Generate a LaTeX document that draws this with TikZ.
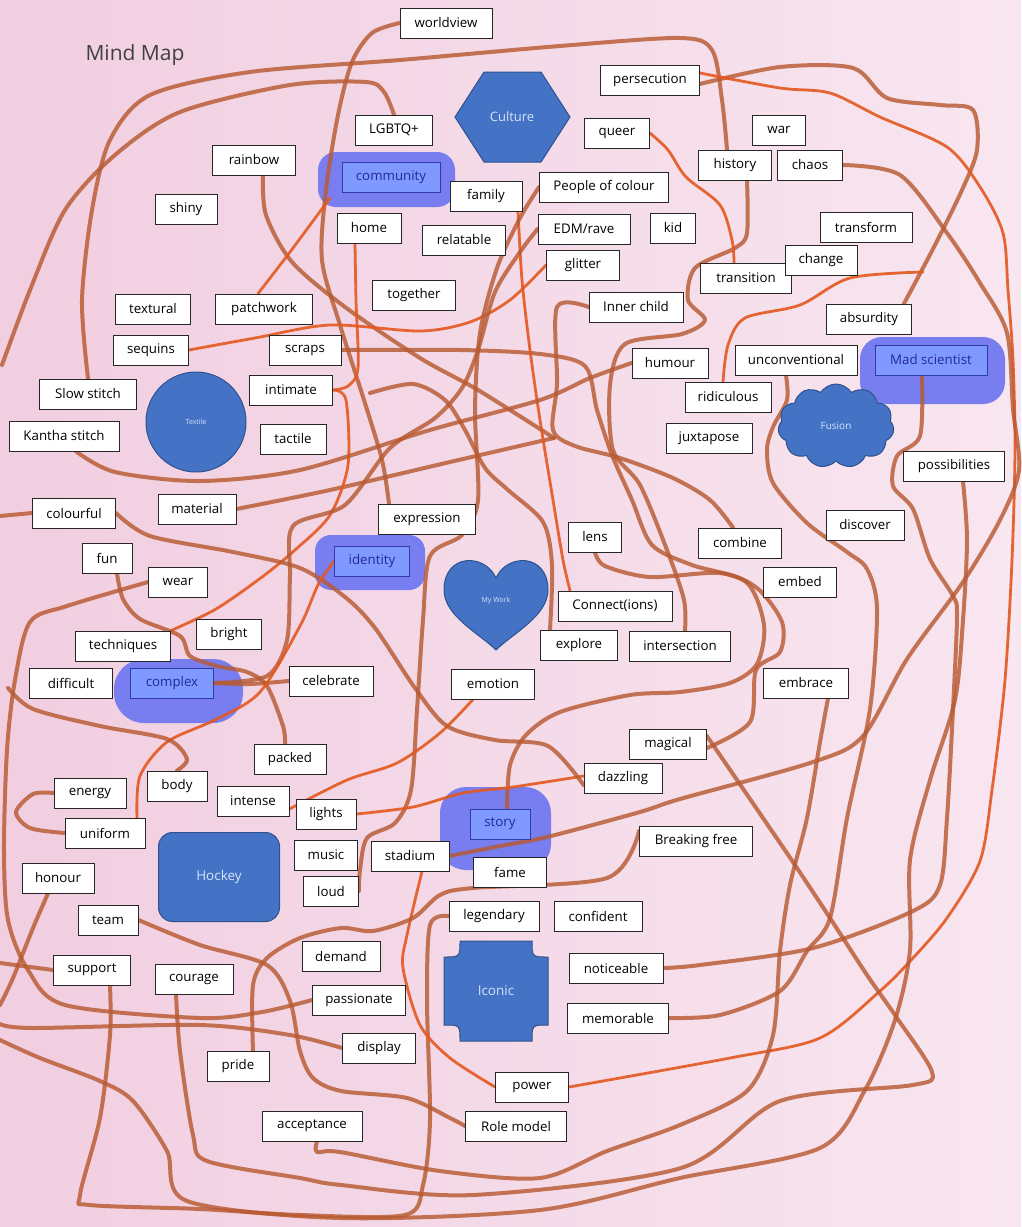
\documentclass[tikz,border=0pt]{standalone}
\usepackage{fontspec}
\setmainfont{Open Sans}
\usepackage{tikz}
\usepackage{xcolor}
\usetikzlibrary{shapes.symbols}

\pgfdeclarelayer{blobs}
\pgfdeclarelayer{scribbles}
\pgfsetlayers{blobs,scribbles,main}

\definecolor{bgleft}{RGB}{241,206,224}
\definecolor{bgright}{RGB}{248,230,240}
\definecolor{scrib}{RGB}{184,90,50}
\definecolor{scribhot}{RGB}{228,88,30}
\definecolor{shapeblue}{RGB}{68,114,196}
\definecolor{shapeedge}{RGB}{47,82,143}
\definecolor{blobblue}{RGB}{120,126,240}
\definecolor{hilite}{RGB}{128,153,255}
\definecolor{hiliteedge}{RGB}{45,60,170}
\definecolor{hilitetext}{RGB}{32,42,150}
\definecolor{shapetext}{RGB}{215,228,250}

\tikzset{
  word/.style={draw=black!85, fill=white, line width=0.8, minimum height=30,
    inner sep=2, font=\fontsize{13.3}{16}\selectfont},
  hiword/.style={word, draw=hiliteedge, fill=hilite, text=hilitetext},
  blob/.style={fill=blobblue},
  bigshape/.style={fill=shapeblue, draw=shapeedge, line width=1, text=shapetext},
  shapelabel/.style={text=shapetext, inner sep=0},
  scribble/.style={draw=scrib, line width=4, opacity=0.82, line cap=round, line join=round},
  glow/.style={draw=scribhot, line width=2.8, opacity=0.9, line cap=round, line join=round}
}

\begin{document}
\begin{tikzpicture}[x=1pt, y=-1pt]
  \useasboundingbox (0,0) rectangle (1021,1227);

  \begin{pgfonlayer}{blobs}
    \shade[left color=bgleft, right color=bgright] (0,0) rectangle (1021,1227);
    % surlignage bleu
    \fill[blob, rounded corners=18] (318,152) rectangle (455,207);
    \fill[blob, rounded corners=16] (315,535) rectangle (425,590);
    \fill[blob, rounded corners=30] (114,659) rectangle (243,723);
    \fill[blob, rounded corners=26] (440,787) rectangle (551,870);
    \fill[blob, rounded corners=22] (860,337) rectangle (1005,404);
  \end{pgfonlayer}

  \node[font=\fontsize{21}{24}\selectfont, text=black!75] (title) at (135,55) {Mind Map};

  % formes
  \draw[bigshape] (455,117) -- (484,72) -- (541,72) -- (570,117) -- (541,162) -- (484,162) -- cycle;
  \node[shapelabel, font=\fontsize{13}{15}\selectfont] (culture) at (512,117) {Culture};
  \node[bigshape, circle, minimum size=100, font=\fontsize{7}{8}\selectfont] (textile) at (196,422) {Textile};
  \draw[bigshape] (496,578) .. controls (485,553) and (444,553) .. (444,590)
    .. controls (444,616) and (480,634) .. (496,650)
    .. controls (512,634) and (548,616) .. (548,590)
    .. controls (548,553) and (507,553) .. (496,578) -- cycle;
  \node[shapelabel, font=\fontsize{7}{8}\selectfont] (mywork) at (496,601) {My Work};
  \node[bigshape, cloud, cloud puffs=11, cloud puff arc=115, aspect=1.45,
    minimum width=116, minimum height=84, font=\fontsize{10}{12}\selectfont] (fusion) at (836,426) {Fusion};
  \node[bigshape, rounded corners=14, minimum width=121, minimum height=89,
    font=\fontsize{13.5}{16}\selectfont] (hockey) at (219,877) {Hockey};
  \draw[bigshape] (460,941) -- (532,941) .. controls (532,957) .. (548,957) -- (548,1025)
    .. controls (532,1025) .. (532,1041) -- (460,1041) .. controls (460,1025) .. (444,1025)
    -- (444,957) .. controls (460,957) .. (460,941) -- cycle;
  \node[shapelabel, font=\fontsize{13.5}{16}\selectfont] (iconic) at (496,991) {Iconic};

  % mots
  \node[word, minimum width=92] (worldview) at (446,23) {worldview};
  \node[word, minimum width=99] (persecution) at (650,80) {persecution};
  \node[word, minimum width=77] (lgbtq) at (394,130) {LGBTQ+};
  \node[word, minimum width=65] (queer) at (617,133) {queer};
  \node[word, minimum width=53] (war) at (779,130) {war};
  \node[word, minimum width=73] (history) at (735,165) {history};
  \node[word, minimum width=65] (chaos) at (810,165) {chaos};
  \node[word, minimum width=83] (rainbow) at (254,160) {rainbow};
  \node[hiword, minimum width=98] (community) at (391,177) {community};
  \node[word, minimum width=72] (family) at (486,196) {family};
  \node[word, minimum width=129] (poc) at (604,187) {People of colour};
  \node[word, minimum width=62] (shiny) at (186,209) {shiny};
  \node[word, minimum width=64] (home) at (369,228) {home};
  \node[word, minimum width=83] (relatable) at (464,240) {relatable};
  \node[word, minimum width=92] (edm) at (584,229) {EDM/rave};
  \node[word, minimum width=45] (kid) at (673,228) {kid};
  \node[word, minimum width=92] (transform) at (866,227) {transform};
  \node[word, minimum width=91] (transition) at (746,278) {transition};
  \node[word, minimum width=72] (change) at (821,260) {change};
  \node[word, minimum width=73] (glitter) at (583,265) {glitter};
  \node[word, minimum width=83] (together) at (414,295) {together};
  \node[word, minimum width=94] (innerchild) at (636,307) {Inner child};
  \node[word, minimum width=75] (textural) at (153,309) {textural};
  \node[word, minimum width=97] (patchwork) at (264,309) {patchwork};
  \node[word, minimum width=85] (absurdity) at (869,319) {absurdity};
  \node[word, minimum width=72] (scraps) at (305,350) {scraps};
  \node[word, minimum width=75] (sequins) at (151,350) {sequins};
  \node[word, minimum width=76] (humour) at (670,363) {humour};
  \node[word, minimum width=122] (unconv) at (796,360) {unconventional};
  \node[hiword, minimum width=112] (madsci) at (931,360) {Mad scientist};
  \node[word, minimum width=86] (ridiculous) at (728,397) {ridiculous};
  \node[word, minimum width=97] (slowstitch) at (88,394) {Slow stitch};
  \node[word, minimum width=83] (intimate) at (291,390) {intimate};
  \node[word, minimum width=86] (juxtapose) at (709,438) {juxtapose};
  \node[word, minimum width=110] (kantha) at (64,436) {Kantha stitch};
  \node[word, minimum width=66] (tactile) at (293,439) {tactile};
  \node[word, minimum width=101] (possibilities) at (954,466) {possibilities};
  \node[word, minimum width=83] (colourful) at (74,513) {colourful};
  \node[word, minimum width=78] (material) at (197,509) {material};
  \node[word, minimum width=97] (expression) at (427,519) {expression};
  \node[word, minimum width=78] (discover) at (865,525) {discover};
  \node[word, minimum width=53] (lens) at (595,537) {lens};
  \node[word, minimum width=83] (combine) at (740,543) {combine};
  \node[hiword, minimum width=75] (identity) at (372,561) {identity};
  \node[word, minimum width=50] (fun) at (107,558) {fun};
  \node[word, minimum width=59] (wear) at (178,582) {wear};
  \node[word, minimum width=73] (embed) at (800,582) {embed};
  \node[word, minimum width=114] (connect) at (615,606) {Connect(ions)};
  \node[word, minimum width=65] (bright) at (229,634) {bright};
  \node[word, minimum width=77] (explore) at (579,645) {explore};
  \node[word, minimum width=101] (intersection) at (680,646) {intersection};
  \node[word, minimum width=95] (techniques) at (123,646) {techniques};
  \node[word, minimum width=83] (difficult) at (71,683) {difficult};
  \node[hiword, minimum width=83] (complex) at (172,683) {complex};
  \node[word, minimum width=84] (celebrate) at (331,681) {celebrate};
  \node[word, minimum width=83] (emotion) at (493,684) {emotion};
  \node[word, minimum width=85] (embrace) at (806,683) {embrace};
  \node[word, minimum width=77] (magical) at (668,744) {magical};
  \node[word, minimum width=72] (packed) at (290,759) {packed};
  \node[word, minimum width=72] (energy) at (90,793) {energy};
  \node[word, minimum width=60] (body) at (177,786) {body};
  \node[word, minimum width=78] (dazzling) at (623,778) {dazzling};
  \node[word, minimum width=72] (intense) at (253,801) {intense};
  \node[word, minimum width=60] (lights) at (326,814) {lights};
  \node[hiword, minimum width=60] (story) at (500,824) {story};
  \node[word, minimum width=80] (uniform) at (105,833) {uniform};
  \node[word, minimum width=113] (breaking) at (696,841) {Breaking free};
  \node[word, minimum width=63] (music) at (326,855) {music};
  \node[word, minimum width=78] (stadium) at (410,856) {stadium};
  \node[word, minimum width=73] (fame) at (510,872) {fame};
  \node[word, minimum width=72] (honour) at (58,878) {honour};
  \node[word, minimum width=55] (loud) at (331,891) {loud};
  \node[word, minimum width=60] (team) at (108,920) {team};
  \node[word, minimum width=90] (legendary) at (494,916) {legendary};
  \node[word, minimum width=88] (confident) at (598,916) {confident};
  \node[word, minimum width=78] (demand) at (341,956) {demand};
  \node[word, minimum width=94] (noticeable) at (616,968) {noticeable};
  \node[word, minimum width=77] (support) at (92,970) {support};
  \node[word, minimum width=78] (courage) at (194,979) {courage};
  \node[word, minimum width=93] (passionate) at (359,1000) {passionate};
  \node[word, minimum width=101] (memorable) at (618,1018) {memorable};
  \node[word, minimum width=73] (display) at (379,1048) {display};
  \node[word, minimum width=62] (pride) at (238,1066) {pride};
  \node[word, minimum width=73] (power) at (532,1087) {power};
  \node[word, minimum width=100] (acceptance) at (312,1126) {acceptance};
  \node[word, minimum width=101] (rolemodel) at (516,1126) {Role model};

  % bouts libres
  \coordinate (leftB) at (2,365);
  \coordinate (leftC) at (0,516);
  \coordinate (leftD) at (8,688);
  \coordinate (leftF) at (0,1040);
  \coordinate (leftG) at (0,1024);
  \coordinate (leftH) at (0,1005);
  \coordinate (leftS) at (0,963);
  \coordinate (changeend) at (923,272);
  \coordinate (kinkmid) at (554,438);
  \coordinate (hookmid) at (370,393);

  \begin{pgfonlayer}{scribbles}
    % haut
    \draw[scribble] plot[smooth] coordinates {(slowstitch.north) (82,300) (92,210) (110,140) (150,95) (250,72) (400,60) (560,46) (680,38) (712,50) (722,100) ([xshift=-8]history.north)};
    \draw[scribble] plot[smooth] coordinates {(lgbtq.north) (384,92) (366,82) (290,85) (180,112) (115,155) (65,210) (30,290) (leftB)};
    \draw[scribble] plot[smooth] coordinates {(worldview.west) (372,33) (352,62) (338,115) (326,190) (322,260) (340,325) (364,400) (382,460) ([xshift=-38]expression.north)};
    \draw[scribble] plot[smooth] coordinates {([xshift=9]rainbow.south) (266,215) (292,262) (345,307) (420,358) (478,390) (kinkmid)};
    \draw[scribble] plot[smooth] coordinates {(kinkmid) (450,462) (330,490) (material.east)};
    \draw[glow] plot[smooth] coordinates {([xshift=-6]patchwork.north) (290,252) (330,198)};
    \draw[glow] plot[smooth] coordinates {(sequins.east) (255,338) (330,325) (420,331) (470,322) (510,300) (glitter.west)};
    \draw[glow] plot[smooth] coordinates {([xshift=-14]home.south) (356,300) (358,368) (348,386) (intimate.east)};
    \draw[glow] plot[smooth] coordinates {(intimate.east) (346,400) (348,465) (330,515) (295,550) (262,577) (216,609) (techniques.north east)};
    \draw[scribble] plot[smooth] coordinates {(scraps.east) (460,350) (540,354) (585,366) (597,410) (612,455) (632,500) (652,545) (692,565) (746,582) (764,625) (757,664) (730,683) (680,692) (630,695) (560,712) (526,735) (510,765) ([xshift=7]story.north)};
    \draw[scribble] plot[smooth] coordinates {(lens.south) (605,566) (650,577) (720,573) (757,588) (782,622) (780,652) (756,670) (750,722) ([yshift=-4]magical.east)};
    \draw[glow] plot[smooth] coordinates {([xshift=32]family.south) (522,280) (530,350) (540,420) (553,500) (563,560) ([xshift=-45]connect.north)};
    \draw[scribble] plot[smooth] coordinates {(poc.west) (520,218) (497,268) (480,333) (475,410) (478,500) (462,535) (430,556) (423,620) (417,710) (411,790) (395,823) (367,838) (360,870) (loud.east)};
    \draw[scribble] plot[smooth] coordinates {(edm.west) (520,252) (495,292) (478,350) (462,388) (435,418) (390,448) (345,505) (293,526) (290,576) (287,640) (267,676) (complex.east)};
    \draw[scribble] plot[smooth] coordinates {([xshift=12]kantha.south) (115,472) (200,481) (300,470) (430,430) (540,400) (590,378) (humour.west)};
    \draw[scribble] plot[smooth] coordinates {(innerchild.west) (557,307) (557,383) (553,430) (575,446) (620,458) (673,478) (710,500) ([xshift=-7]combine.north)};
    \draw[scribble] plot[smooth] coordinates {(hookmid) (413,384) (445,400) (465,430) (485,468) (508,490) (543,522) (552,565) ([xshift=-29]explore.north)};
    % droite
    \draw[scribble] plot[smooth] coordinates {([xshift=12]history.south) (747,233) (735,248) (695,268) (688,300) (705,320) (682,334) (625,344) (610,385) (613,450) (640,485) (667,550) (684,600) ([xshift=5]intersection.north)};
    \draw[glow] plot[smooth] coordinates {(queer.east) (668,150) (686,177) (720,205) (732,240) ([xshift=-12]transition.north)};
    \draw[scribble] plot[smooth] coordinates {([yshift=-4]persecution.east) (780,67) (853,68) (887,98) (940,105) (973,110) (977,150) (962,190) (935,245) ([xshift=35]absurdity.north)};
    \draw[glow] plot[smooth] coordinates {([yshift=7]persecution.east) (780,88) (830,93) (880,117) (947,147) (980,187) (1003,233) (1008,290) (1013,360) (1015,450) (1012,560) (1005,680) (992,790) (980,861) (947,918) (913,958) (880,991) (820,1038) (730,1058) (power.east)};
    \draw[scribble] plot[smooth] coordinates {(chaos.east) (900,175) (947,233) (980,283) (1007,333) (1013,409) (1019,470) (1000,520) (963,582) (907,659) (863,736) (813,762) (680,799) (640,812) (547,837) (500,846) (stadium.east)};
    \draw[glow] plot[smooth] coordinates {(changeend) (850,278) (800,305) (745,318) (728,345) ([xshift=-5]ridiculous.north)};
    \draw[scribble] plot[smooth] coordinates {([xshift=-10]unconv.south) (787,400) (773,427) (767,450) (773,483) (807,523) (847,552) (867,569) (877,609) (870,709) (847,818) (830,918) (807,951) (780,991) (720,1015) (memorable.east)};
    \draw[scribble] plot[smooth] coordinates {([xshift=-9]madsci.south) (920,436) (897,456) (893,486) (913,509) (930,559) (953,596) (957,616) (953,709) (947,818) (940,885) (913,911) (813,948) (700,965) (noticeable.east)};
    \draw[scribble] plot[smooth] coordinates {([xshift=9]possibilities.south) (967,540) (963,620) (955,700) (930,780) (910,860) (910,950) (895,1020) (865,1090) (820,1148) (680,1178) (540,1210) (341,1218) (187,1201) (167,1151) (133,1101) (100,1081) (40,1058) (leftF)};
    \draw[scribble] plot[smooth] coordinates {([xshift=22]embrace.south) (820,742) (807,818) (790,885) (780,951) (773,1035) (747,1091) (680,1125) (607,1151) (540,1178) (440,1171) (340,1152) (317,1152) ([xshift=5]acceptance.south)};
    \draw[scribble] plot[smooth] coordinates {([yshift=8]magical.east) (763,818) (797,868) (830,918) (867,975) (897,1018) (932,1072) (913,1085) (780,1101) (681,1168) (473,1195) (341,1185) (300,1178) (207,1161) (193,1135) (180,1051) ([xshift=-18]courage.south)};
    % milieu et bas
    \draw[glow] plot[smooth] coordinates {(lights.east) (413,807) (463,793) (513,787) ([yshift=2]dazzling.west)};
    \draw[glow] plot[smooth] coordinates {([yshift=-8]intense.east) (347,780) (397,763) (440,733) ([xshift=-20]emotion.south)};
    \draw[scribble] plot[smooth] coordinates {(colourful.east) (150,536) (233,552) (300,568) (345,597) (375,628) (415,688) (447,726) (495,740) (548,746) ([yshift=-7]dazzling.west)};
    \draw[scribble] (colourful.west) -- (leftC);
    \draw[scribble] plot[smooth] coordinates {([xshift=10]fun.south) (123,599) (140,619) (180,636) (190,656) (217,666) (247,672) (267,686) (283,726) ([xshift=-5]packed.north)};
    \draw[scribble] plot[smooth] coordinates {(complex.east) (250,684) (celebrate.west)};
    \draw[glow] plot[smooth] coordinates {([xshift=32]uniform.north) (140,776) (167,742) (217,719) (260,692) (300,626) (318,585) (identity.west)};
    \draw[scribble] plot[smooth] coordinates {(leftD) (33,709) (100,726) (167,739) (187,759) (body.north)};
    \draw[scribble] plot[smooth] coordinates {(wear.west) (67,606) (30,622) (15,680) (7,750) (4,850) (8,920) (28,970) (65,1005) (200,1018) (262,1012) (passionate.west)};
    \draw[scribble] plot[smooth] coordinates {(energy.west) (33,794) (16,812) (30,828) (uniform.west)};
    \draw[scribble] plot[smooth] coordinates {([xshift=-10]honour.south) (33,928) (13,978) (leftH)};
    \draw[scribble] (leftS) -- (support.west);
    \draw[scribble] plot[smooth] coordinates {(team.east) (200,945) (267,965) (290,1001) (300,1051) (313,1078) (341,1091) (407,1098) (450,1118) (rolemodel.west)};
    \draw[scribble] plot[smooth] coordinates {(legendary.west) (430,925) (427,1000) (430,1120) (423,1185) (405,1215) (300,1215) (200,1209) (90,1205) (80,1195) (100,1118) (110,1035) ([xshift=18]support.south)};
    \draw[glow] plot[smooth] coordinates {([xshift=12]stadium.south) (407,935) (403,968) (420,1025) (450,1058) (power.west)};
    \draw[scribble] plot[smooth] coordinates {([xshift=15]pride.north) (253,985) (267,958) (300,938) (341,928) (373,931) (413,918) (440,895) (473,888) (607,878) ([yshift=10]breaking.west)};
    \draw[scribble] plot[smooth] coordinates {(display.west) (290,1035) (200,1025) (33,1028) (leftG)};
  \end{pgfonlayer}
\end{tikzpicture}
\end{document}
